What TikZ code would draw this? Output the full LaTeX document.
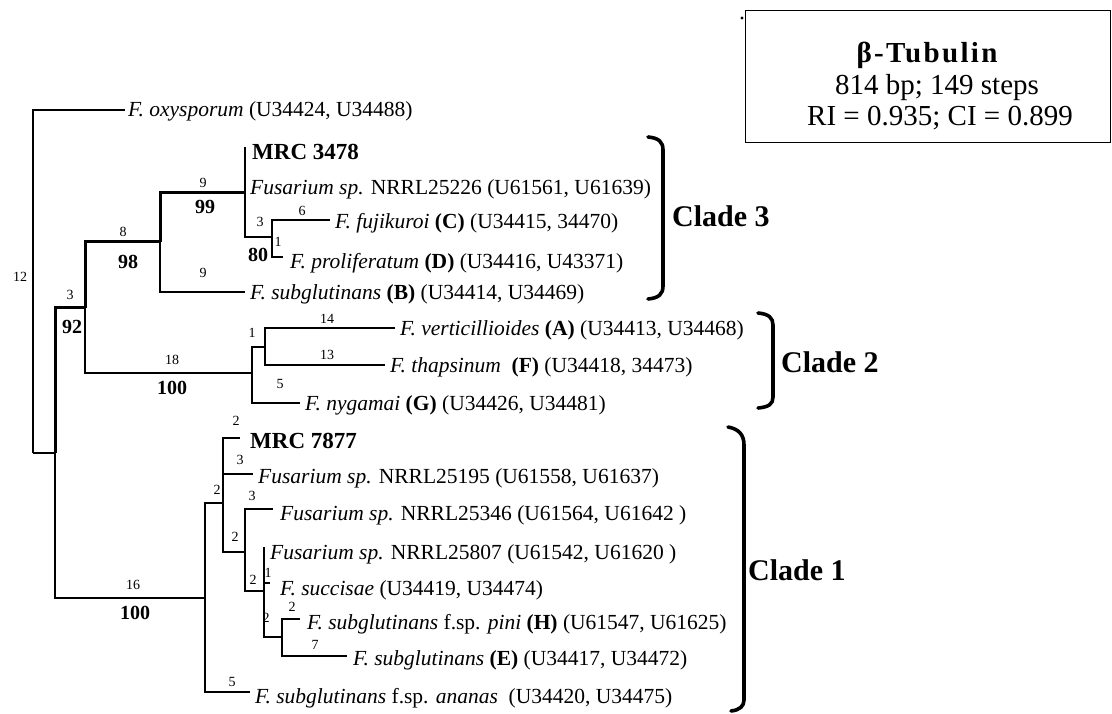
\documentclass[tikz,border=0pt]{standalone}
\usepackage{fontspec}
\setmainfont{Liberation Serif}
\begin{document}
\begin{tikzpicture}[x=1pt,y=-1pt,
  br/.style={line width=2.6pt},
  brk/.style={line width=3.6pt, line cap=round},
  leaf/.style={anchor=base west, inner sep=0pt, font=\fontsize{21.5}{24}\selectfont},
  leafb/.style={anchor=base west, inner sep=0pt, font=\fontsize{23}{26}\bfseries\selectfont},
  bl/.style={inner sep=0pt, font=\fontsize{14}{16}\selectfont},
  bs/.style={inner sep=0pt, font=\fontsize{20}{22}\bfseries\selectfont},
  clade/.style={anchor=base west, inner sep=0pt, font=\fontsize{30}{34}\bfseries\selectfont},
  boxt/.style={anchor=base, inner sep=0pt, font=\fontsize{29}{31}\selectfont}]
\useasboundingbox (0,0) rectangle (1112,714);

% ---- tree coordinates ----
\coordinate (R) at (33,453);
\coordinate (oxyE) at (125,110);
\coordinate (A) at (55,453);
\coordinate (B) at (85,308);
\coordinate (C) at (160,242);
\coordinate (D) at (245,193);
\coordinate (mrcE) at (245,147);
\coordinate (E) at (272,237);
\coordinate (fujE) at (330,220);
\coordinate (proE) at (283,257);
\coordinate (subBE) at (245,292);
\coordinate (F) at (252,373);
\coordinate (G) at (265,347);
\coordinate (verE) at (395,328);
\coordinate (thaE) at (385,365);
\coordinate (nygE) at (300,403);
\coordinate (H) at (205,598);
\coordinate (I) at (223,503);
\coordinate (mrcSE) at (240,438);
\coordinate (nAE) at (253,474);
\coordinate (J) at (245,552);
\coordinate (nBE) at (273,509);
\coordinate (K) at (264,591);
\coordinate (nCE) at (264,547);
\coordinate (sucE) at (270,583);
\coordinate (L) at (282,637);
\coordinate (piniE) at (300,619);
\coordinate (subEE) at (347,656);
\coordinate (anaE) at (250,692);

% ---- branches ----
\draw[br] (R) |- (oxyE);
\draw[br] (R) |- (A);
\draw[br, line width=3pt] (A) |- (B);
\draw[br] (A) |- (H);
\draw[br, line width=3pt] (B) |- (C);
\draw[br] (B) |- (F);
\draw[br, line width=3pt] (C) |- (D);
\draw[br] (C) |- (subBE);
\draw[br] (D) |- (mrcE);
\draw[br] (D) |- (E);
\draw[br] (E) |- (fujE);
\draw[br] (E) |- (proE);
\draw[br] (F) |- (G);
\draw[br] (F) |- (nygE);
\draw[br] (G) |- (verE);
\draw[br] (G) |- (thaE);
\draw[br] (H) |- (I);
\draw[br] (H) |- (anaE);
\draw[br] (I) |- (mrcSE);
\draw[br] (I) |- (nAE);
\draw[br] (I) |- (J);
\draw[br] (J) |- (nBE);
\draw[br] (J) |- (K);
\draw[br] (K) |- (nCE);
\draw[br] (K) |- (sucE);
\draw[br] (K) |- (L);
\draw[br] (L) |- (piniE);
\draw[br] (L) |- (subEE);

% ---- leaf labels ----
\node[leaf] (t1) at (128,117) {\textit{F. oxysporum} (U34424, U34488)};
\node[leafb] (t2) at (252,160) {MRC 3478};
\node[leaf] (t3) at (250,195) {\textit{Fusarium sp.} NRRL25226 (U61561, U61639)};
\node[leaf] (t4) at (335,229) {\textit{F. fujikuroi} \textbf{(C)} (U34415, 34470)};
\node[leaf] (t5) at (290,269) {\textit{F. proliferatum} \textbf{(D)} (U34416, U43371)};
\node[leaf] (t6) at (250,300) {\textit{F. subglutinans} \textbf{(B)} (U34414, U34469)};
\node[leaf] (t7) at (400,335) {\textit{F. verticillioides} \textbf{(A)} (U34413, U34468)};
\node[leaf] (t8) at (390,372) {\textit{F. thapsinum}\ \ \textbf{(F)} (U34418, 34473)};
\node[leaf] (t9) at (305,410) {\textit{F. nygamai} \textbf{(G)} (U34426, U34481)};
\node[leafb] (t10) at (250,448) {MRC 7877};
\node[leaf] (t11) at (258,483) {\textit{Fusarium sp.} NRRL25195 (U61558, U61637)};
\node[leaf] (t12) at (280,520) {\textit{Fusarium sp.} NRRL25346 (U61564, U61642 )};
\node[leaf] (t13) at (270,559) {\textit{Fusarium sp.} NRRL25807 (U61542, U61620 )};
\node[leaf] (t14) at (280,595) {\textit{F. succisae} (U34419, U34474)};
\node[leaf] (t15) at (307,629) {\textit{F. subglutinans} f.sp. \textit{pini} \textbf{(H)} (U61547, U61625)};
\node[leaf] (t16) at (353,665) {\textit{F. subglutinans} \textbf{(E)} (U34417, U34472)};
\node[leaf] (t17) at (255,703) {\textit{F. subglutinans} f.sp. \textit{ananas}\ \ (U34420, U34475)};

% ---- branch lengths and bootstrap values ----
\node[bl] (s12) at (20,277) {12};
\node[bl] (s3a) at (70,295) {3};
\node[bs] (b92) at (72,327) {92};
\node[bl] (s8) at (123,232) {8};
\node[bs] (b98) at (128,262) {98};
\node[bl] (s9a) at (203,183) {9};
\node[bs] (b99) at (205,207) {99};
\node[bl] (s9b) at (203,273) {9};
\node[bl] (s3b) at (260,222) {3};
\node[bl] (s1a) at (278,242) {1};
\node[bs] (b80) at (258,255) {80};
\node[bl] (s6) at (302,211) {6};
\node[bl] (s18) at (172,360) {18};
\node[bs] (b100a) at (172,388) {100};
\node[bl] (s1b) at (252,333) {1};
\node[bl] (s14) at (327,319) {14};
\node[bl] (s13) at (327,355) {13};
\node[bl] (s5a) at (280,384) {5};
\node[bl] (s16) at (133,585) {16};
\node[bs] (b100b) at (135,613) {100};
\node[bl] (s2a) at (217,490) {2};
\node[bl] (s2b) at (236,421) {2};
\node[bl] (s3c) at (240,460) {3};
\node[bl] (s3d) at (252,496) {3};
\node[bl] (s2c) at (235,537) {2};
\node[bl] (s2d) at (253,580) {2};
\node[bl] (s1c) at (268,573) {1};
\node[bl] (s2e) at (266,618) {2};
\node[bl] (s2f) at (292,607) {2};
\node[bl] (s7) at (315,645) {7};
\node[bl] (s5b) at (232,682) {5};

% ---- clade brackets ----
\draw[brk] (648,137) .. controls (659,138) and (663,142) .. (663,150) -- (663,286) .. controls (663,294) and (659,298) .. (648,299);
\draw[brk] (758,313) .. controls (769,314) and (773,318) .. (773,325) -- (773,397) .. controls (773,404) and (769,407) .. (758,408);
\draw[brk] (728,427) .. controls (739,429) and (744,435) .. (744,445) -- (744,700) .. controls (744,706) and (740,710) .. (731,711);
\node[clade] (c3) at (672,227) {Clade 3};
\node[clade] (c2) at (781,372) {Clade 2};
\node[clade] (c1) at (748,580) {Clade 1};

% ---- info box ----
\node[draw, line width=1.4pt, anchor=north west, minimum width=365pt, minimum height=132pt, inner sep=0pt] (box) at (745,10) {};
\fill (742,18) circle (1.6pt);
\node[boxt, font=\fontsize{29}{31}\bfseries\selectfont\addfontfeature{LetterSpace=8}] (bx1) at (927,63) {β-Tubulin};
\node[boxt] (bx2) at (937,95) {814 bp; 149 steps};
\node[boxt] (bx3) at (940,126) {RI = 0.935; CI = 0.899};
\end{tikzpicture}
\end{document}
